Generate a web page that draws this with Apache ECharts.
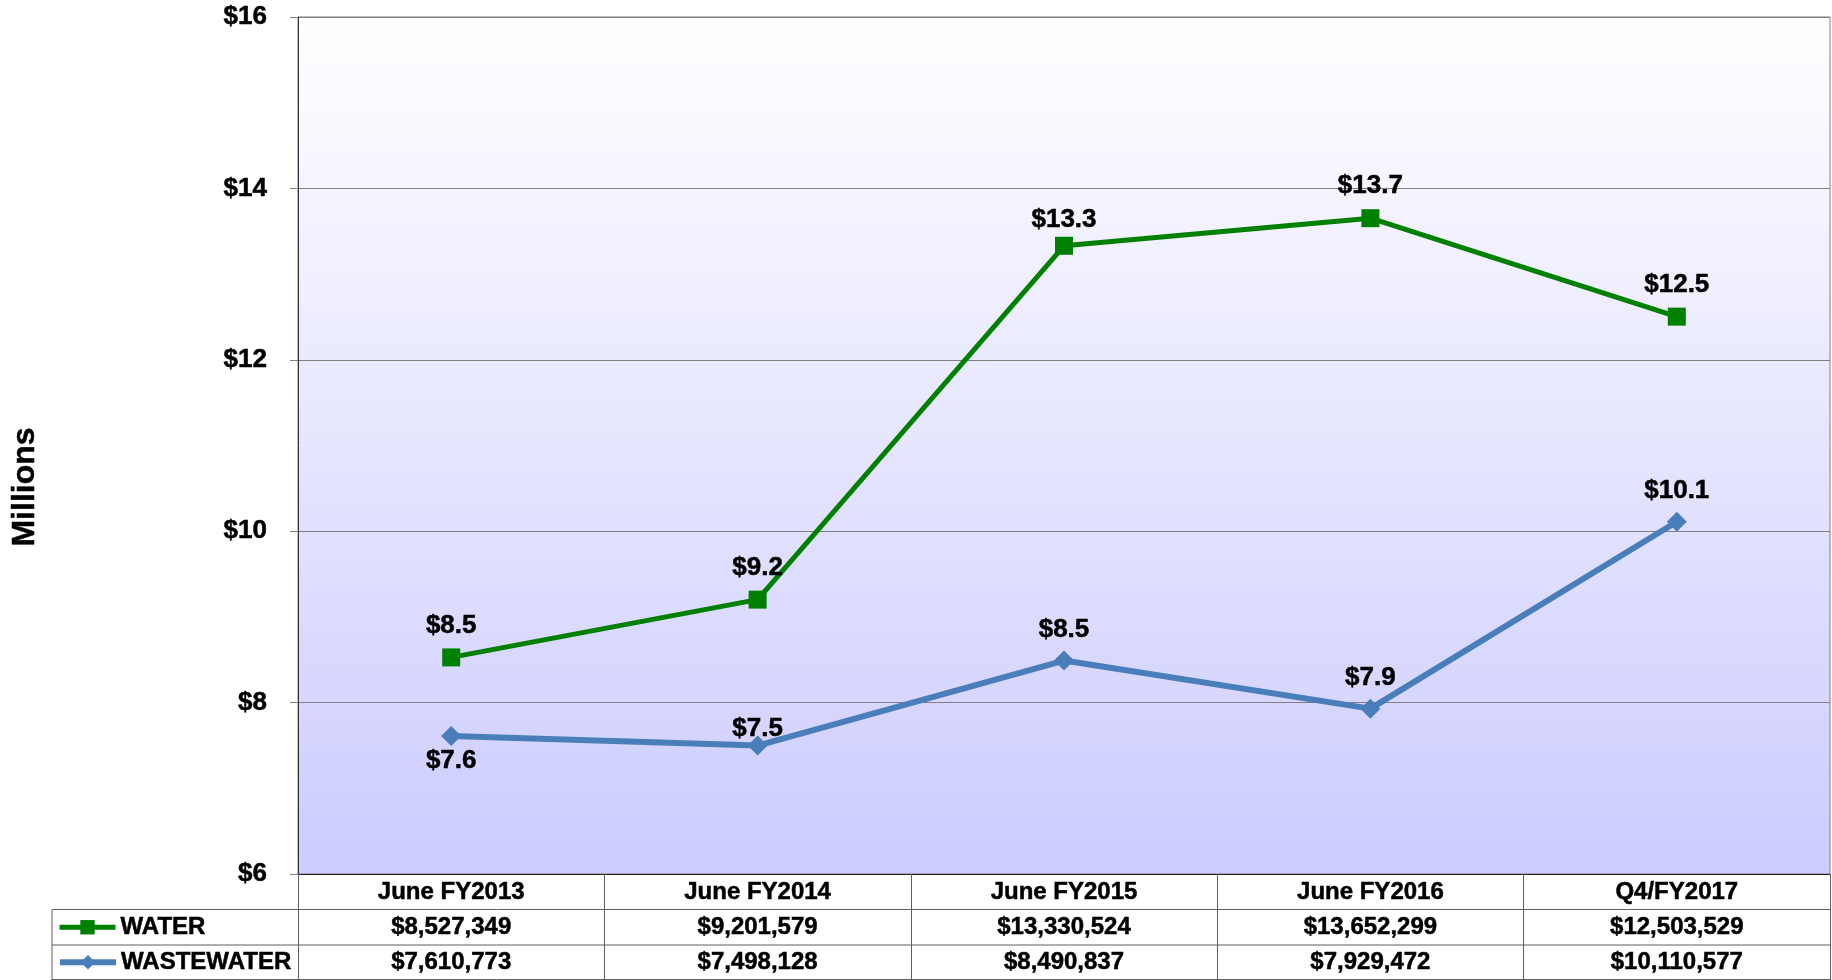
<!DOCTYPE html>
<html>
<head>
<meta charset="utf-8">
<script src="https://cdn.jsdelivr.net/npm/echarts@6/dist/echarts.min.js"></script>
<style>
  html, body { margin: 0; padding: 0; background: #fff; }
  #chart { width: 1832px; height: 980px; }
</style>
</head>
<body>
<div id="chart"></div>
<script>
const categories = ['June FY2013', 'June FY2014', 'June FY2015', 'June FY2016', 'Q4/FY2017'];
const waterDollars = [8527349, 9201579, 13330524, 13652299, 12503529];
const wastewaterDollars = [7610773, 7498128, 8490837, 7929472, 10110577];
const yTicks = [6, 8, 10, 12, 14, 16];

const FONT = '"Liberation Sans", Arial, sans-serif';
const GREEN = '#008000';
const BLUE = '#4a7ebb';
const GRID_LINE = '#808080';

const chart = echarts.init(document.getElementById('chart'));

const toMillions = arr => arr.map(v => v / 1e6);
const money = v => '$' + v.toLocaleString('en-US');

// slight outline makes the bold text as heavy as the original
const boldText = { fontFamily: FONT, fontWeight: 'bold', color: '#000', textBorderColor: '#000', textBorderWidth: 0.5 };

const labelBase = Object.assign({
    show: true,
    fontSize: 26,
    formatter: p => '$' + p.value.toFixed(1)
}, boldText);

// a few labels sit closer / under their point, like the original
const waterData = toMillions(waterDollars).map((v, i) => i === 2
    ? { value: v, label: { distance: 4 } } : v);
const wastewaterData = toMillions(wastewaterDollars).map((v, i) => {
    if (i === 0) return { value: v, label: { position: 'bottom', distance: 2 } };
    if (i === 1) return { value: v, label: { distance: -6 } };
    return v;
});

const legendBase = {
    left: 57,
    padding: 0,
    itemWidth: 56,
    itemHeight: 18,
    textStyle: Object.assign({ fontSize: 24 }, boldText)
};

const option = {
    animation: false,
    grid: {
        left: 298, right: 2, top: 17, bottom: 106,
        show: true,
        borderColor: GRID_LINE,
        borderWidth: 1,
        backgroundColor: {
            type: 'linear', x: 0, y: 0, x2: 0, y2: 1,
            colorStops: [
                { offset: 0, color: '#ffffff' },
                { offset: 1, color: '#ccccff' }
            ]
        }
    },
    legend: [
        Object.assign({ top: 915, data: ['WATER'], lineStyle: { width: 5 } }, legendBase),
        Object.assign({ top: 950, data: ['WASTEWATER'], lineStyle: { width: 6 } }, legendBase)
    ],
    xAxis: {
        type: 'category',
        data: categories,
        boundaryGap: true,
        axisLine: { show: true, lineStyle: { color: '#202020', width: 1 } },
        axisTick: { show: true, length: 106, lineStyle: { color: '#606060' } },
        axisLabel: Object.assign({ fontSize: 24, margin: 6 }, boldText)
    },
    yAxis: {
        type: 'value',
        min: yTicks[0],
        max: yTicks[yTicks.length - 1],
        interval: 2,
        axisLine: { show: true, lineStyle: { color: '#303030', width: 1 } },
        axisTick: { show: true, length: 8, lineStyle: { color: GRID_LINE } },
        splitLine: { show: true, lineStyle: { color: GRID_LINE, width: 1 } },
        axisLabel: Object.assign({ fontSize: 26, margin: 31, formatter: v => '$' + v }, boldText)
    },
    series: [
        {
            name: 'WATER',
            type: 'line',
            data: waterData,
            symbol: 'rect',
            symbolSize: 18,
            lineStyle: { color: GREEN, width: 5 },
            itemStyle: { color: GREEN },
            label: Object.assign({}, labelBase, { position: 'top', distance: 10 }),
            z: 3
        },
        {
            name: 'WASTEWATER',
            type: 'line',
            data: wastewaterData,
            symbol: 'diamond',
            symbolSize: 20,
            lineStyle: { color: BLUE, width: 6 },
            itemStyle: { color: BLUE },
            label: Object.assign({}, labelBase, { position: 'top', distance: 8 }),
            z: 2
        }
    ]
};

chart.setOption(option);

// data table under the plot: rows of values and the outer rules
const tableTop = 874, rowH = 35.5, tableLeft = 52, tableRight = 1830;
const centers = categories.map((c, i) => chart.convertToPixel({ xAxisIndex: 0 }, i));
const rule = { stroke: '#606060', lineWidth: 1 };
const graphics = [];
[tableTop + rowH, tableTop + rowH * 2, 979.5].forEach(y => {
    graphics.push({ type: 'line', shape: { x1: tableLeft, y1: y, x2: tableRight, y2: y }, style: rule });
});
graphics.push({ type: 'line', shape: { x1: tableLeft, y1: tableTop + rowH, x2: tableLeft, y2: 980 }, style: rule });
[waterDollars, wastewaterDollars].forEach((row, r) => {
    row.forEach((v, i) => {
        graphics.push({
            type: 'text',
            x: centers[i],
            y: tableTop + rowH * (r + 1.5),
            style: {
                text: money(v), fontFamily: FONT, fontWeight: 'bold', fontSize: 24,
                fill: '#000', stroke: '#000', lineWidth: 0.5,
                align: 'center', verticalAlign: 'middle'
            }
        });
    });
});
graphics.push({
    type: 'text', x: 25, y: 487, rotation: Math.PI / 2,
    style: { text: 'Millions', fontFamily: FONT, fontWeight: 'bold', fontSize: 32,
        fill: '#000', stroke: '#000', lineWidth: 0.5, align: 'center', verticalAlign: 'middle' }
});
chart.setOption({ graphic: graphics });
</script>
</body>
</html>
